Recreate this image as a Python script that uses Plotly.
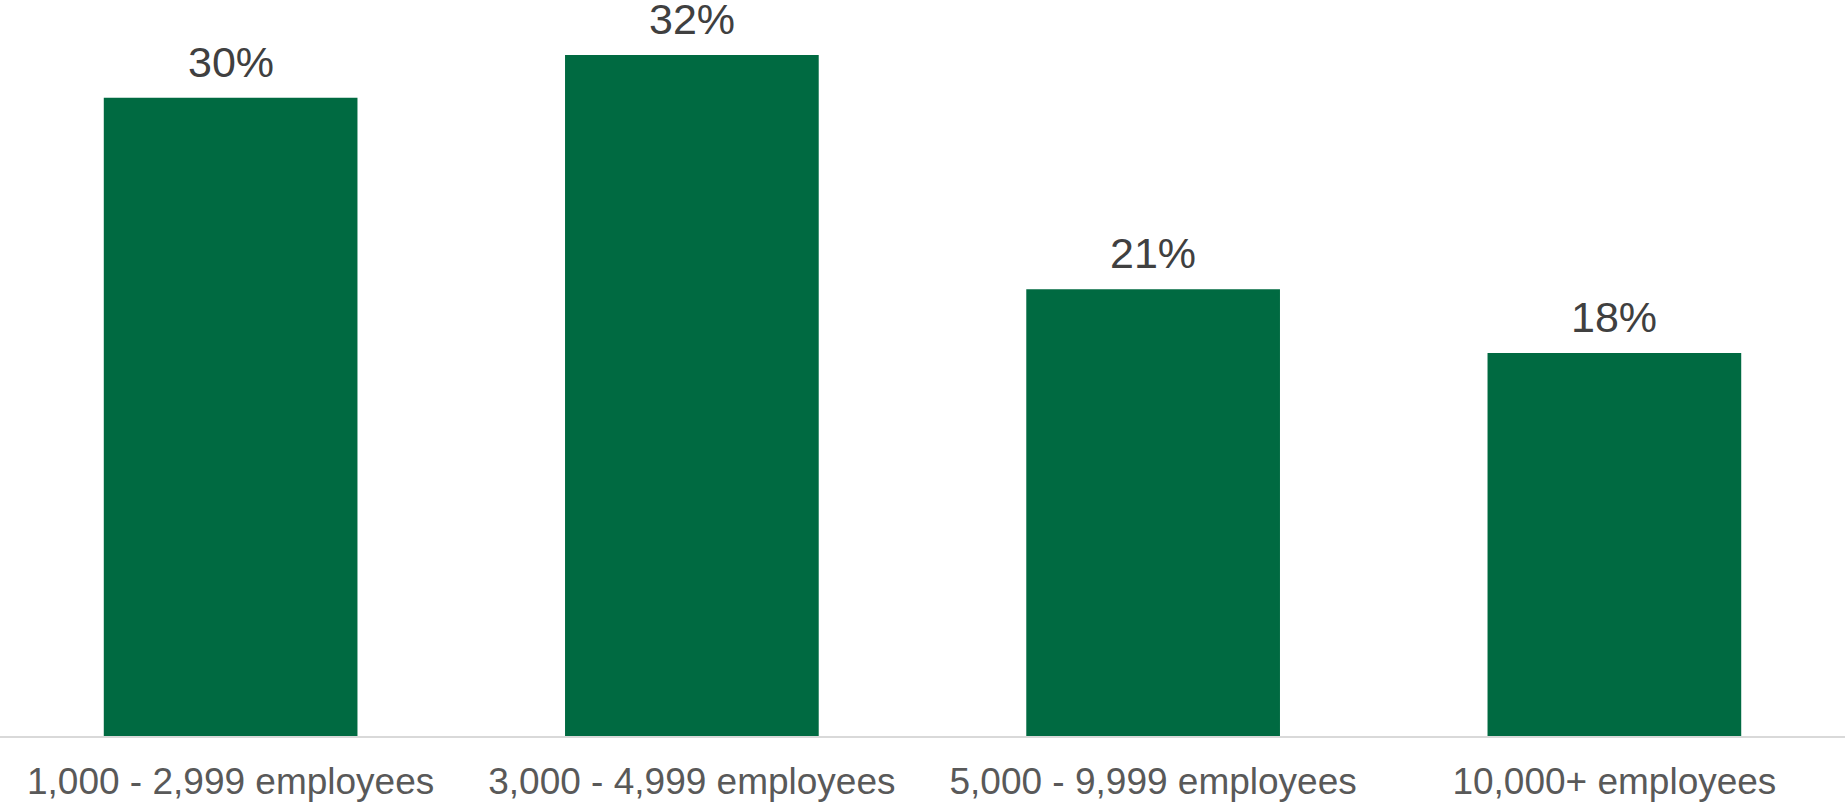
import plotly.graph_objects as go

categories = ["1,000 - 2,999 employees", "3,000 - 4,999 employees", "5,000 - 9,999 employees", "10,000+ employees"]
values = [30, 32, 21, 18]
value_labels = ["30%", "32%", "21%", "18%"]

BAR = "#006A41"
FONT = "Arial, Liberation Sans, sans-serif"

fig = go.Figure()
fig.add_trace(go.Bar(x=categories, y=values, marker=dict(color=BAR, line=dict(width=0)),
                     hoverinfo="skip"))

for c, v, t in zip(categories, values, value_labels):
    fig.add_annotation(x=c, y=v, text=t, showarrow=False, yanchor="bottom", yshift=10,
                       font=dict(family=FONT, size=43, color="#404040"))

fig.update_layout(
    width=1845, height=804,
    margin=dict(l=0, r=0, t=0, b=68, autoexpand=False),
    paper_bgcolor="white", plot_bgcolor="white",
    bargap=0.45,
    showlegend=False,
    xaxis=dict(showline=True, linecolor="#D9D9D9", linewidth=1.5, ticks="",
               automargin=False, ticklabelstandoff=12,
               tickfont=dict(family=FONT, size=37, color="#595959"),
               showgrid=False, zeroline=False, fixedrange=True),
    yaxis=dict(range=[0, 34.59], visible=False, showgrid=False, zeroline=False,
               fixedrange=True, automargin=False),
)

fig.write_html("out.html", config={"displayModeBar": False},
               post_script="document.body.style.margin='0';document.body.style.overflow='hidden';")
